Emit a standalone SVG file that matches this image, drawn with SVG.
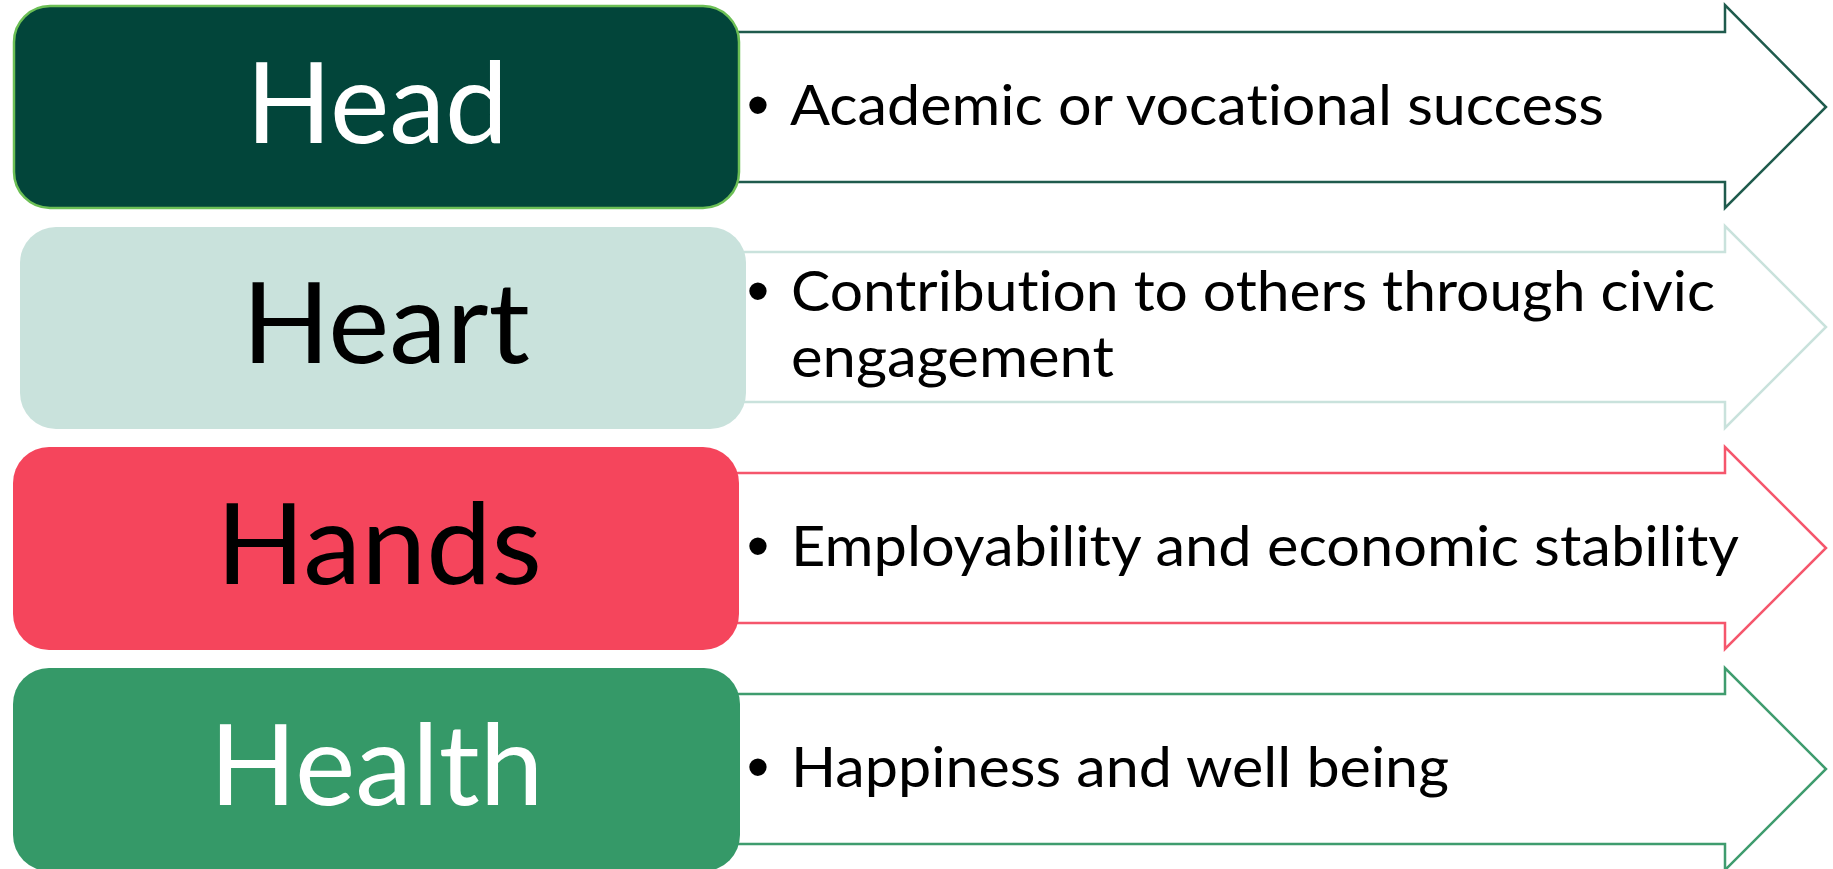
<svg xmlns="http://www.w3.org/2000/svg" width="1833" height="869" viewBox="0 0 1833 869">
<style>
  .arrow { fill: #ffffff; stroke-width: 2.5; stroke-linejoin: miter; }
  .label { font-family: Lato, "Liberation Sans", sans-serif; font-size: 113px; text-anchor: middle; font-variant-ligatures: none; }
  .item { font-family: Lato, "Liberation Sans", sans-serif; font-size: 56px; fill: #000000; font-variant-ligatures: none; }
  .bullet { font-family: "Liberation Sans", sans-serif; font-size: 64px; fill: #000000; text-anchor: middle; }
</style>
<rect x="0" y="0" width="1833" height="869" fill="#ffffff"/>
<g id="connectors">
  <polygon class="arrow" stroke="#1f5b4d" points="700,32 1725,32 1725,5 1826,107 1725,208 1725,182 700,182"/>
  <polygon class="arrow" stroke="#c9e2dc" points="700,252 1725,252 1725,226 1826,327 1725,428 1725,402 700,402"/>
  <polygon class="arrow" stroke="#f5566c" points="700,473 1725,473 1725,447 1826,548 1725,649 1725,623 700,623"/>
  <polygon class="arrow" stroke="#3f9c6e" points="700,694 1725,694 1725,668 1826,769 1725,870 1725,844 700,844"/>
</g>
<g id="head">
  <rect x="14" y="6" width="725" height="202" rx="36" ry="36" fill="#02453a" stroke="#6cbf55" stroke-width="2.5"/>
  <text class="label" x="377" y="143" fill="#ffffff" textLength="262" lengthAdjust="spacingAndGlyphs">Head</text>
  <text class="bullet" x="758" y="127">•</text>
  <text class="item" x="790" y="125" textLength="814" lengthAdjust="spacingAndGlyphs">Academic or vocational success</text>
</g>
<g id="heart">
  <rect x="20" y="227" width="726" height="202" rx="36" ry="36" fill="#c9e2dc"/>
  <text class="label" x="386" y="363" fill="#000000" textLength="288" lengthAdjust="spacingAndGlyphs">Heart</text>
  <text class="bullet" x="758" y="313">•</text>
  <text class="item" x="791" y="311" textLength="924" lengthAdjust="spacingAndGlyphs">Contribution to others through civic</text>
  <text class="item" x="791" y="377" textLength="323" lengthAdjust="spacingAndGlyphs">engagement</text>
</g>
<g id="hands">
  <rect x="13" y="447" width="726" height="203" rx="36" ry="36" fill="#f5455c"/>
  <text class="label" x="379" y="584" fill="#000000" textLength="326" lengthAdjust="spacingAndGlyphs">Hands</text>
  <text class="bullet" x="758" y="568">•</text>
  <text class="item" x="791" y="566" textLength="948" lengthAdjust="spacingAndGlyphs">Employability and economic stability</text>
</g>
<g id="health">
  <rect x="13" y="668" width="727" height="203" rx="36" ry="36" fill="#359968"/>
  <text class="label" x="376.5" y="805" fill="#ffffff" textLength="334" lengthAdjust="spacingAndGlyphs">Health</text>
  <text class="bullet" x="758" y="789">•</text>
  <text class="item" x="791" y="787" textLength="658" lengthAdjust="spacingAndGlyphs">Happiness and well being</text>
</g>
</svg>
